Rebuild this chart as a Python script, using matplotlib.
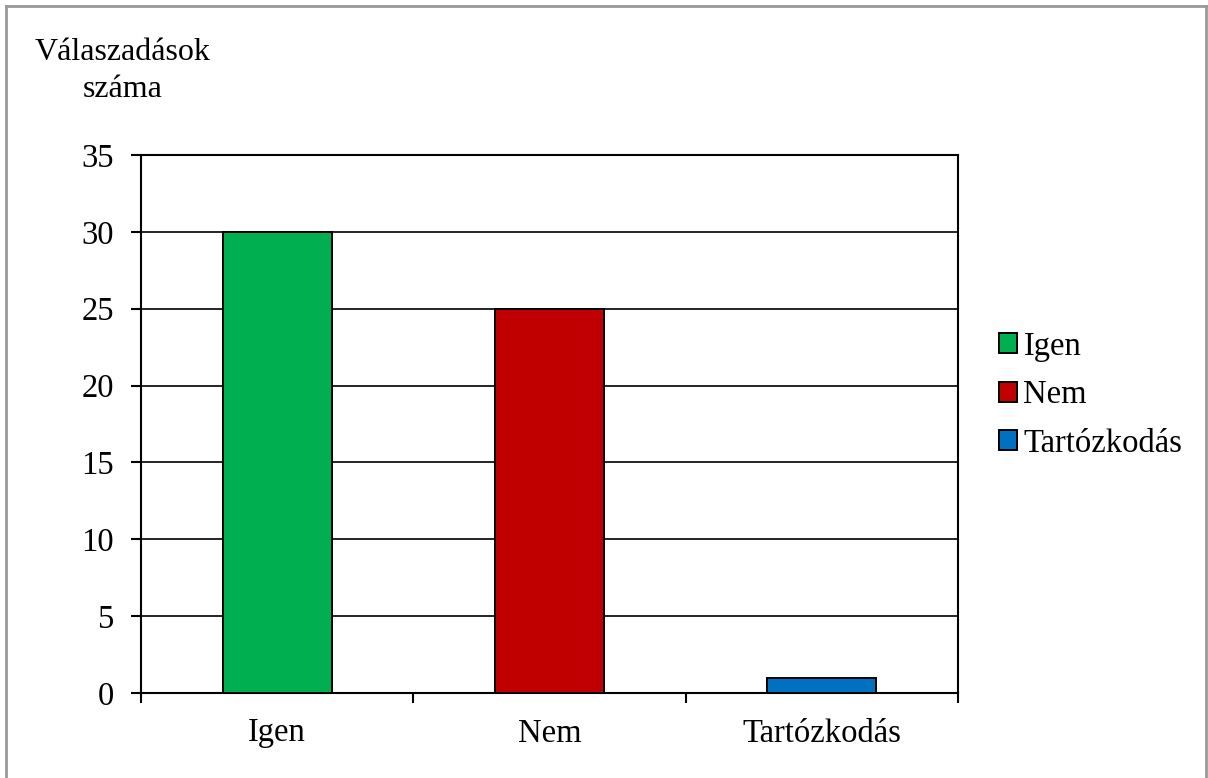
import matplotlib.pyplot as plt
from matplotlib.lines import Line2D
from matplotlib.patches import Patch
import numpy as np

categories = ['Igen', 'Nem', 'Tartózkodás']
values = [30, 25, 1]
colors = ['#00B050', '#C00000', '#0070C0']
yticks = [0, 5, 10, 15, 20, 25, 30, 35]

plt.rcParams['font.family'] = ['Liberation Serif', 'DejaVu Serif']
fs = 23.5

fig = plt.figure(figsize=(12.08, 7.78), dpi=100)
ax = fig.add_axes([141/1208, 85/778, 817/1208, 538/778])

ind = np.arange(len(categories))
ax.bar(ind, values, 0.4, color=colors, edgecolor='black', linewidth=1.4, zorder=3)

ax.set_xlim(-0.5, 2.5)
ax.set_ylim(0, 35)
ax.set_yticks(yticks)
ax.yaxis.grid(True, color='black', linewidth=1.2, zorder=0)
ax.set_xticks(ind)
ax.set_xticklabels(categories)
ax.set_xticks([-0.5, 0.5, 1.5, 2.5], minor=True)
ax.tick_params(axis='x', which='major', length=0, pad=18, labelsize=fs)
ax.tick_params(axis='x', which='minor', length=7, width=1.5, direction='out')
ax.tick_params(axis='y', length=7, width=1.5, direction='out', pad=12.5, labelsize=fs)
for s in ax.spines.values():
    s.set_linewidth(1.5)

# y axis title, two lines
fig.text(123/1208, 1 - 60/778, 'Válaszadások', ha='center', va='baseline', fontsize=23)
fig.text(123/1208, 1 - 97/778, 'száma', ha='center', va='baseline', fontsize=23)

handles = [Patch(facecolor=c, edgecolor='black', linewidth=1.4) for c in colors]
fig.legend(handles, categories, loc='center left', bbox_to_anchor=(999/1208, 1 - 395/778),
           frameon=False, fontsize=fs, handlelength=0.55, handleheight=0.55,
           handletextpad=0.2, labelspacing=0.55, borderpad=0, borderaxespad=0)

# outer border
bc = '#999999'
fig.add_artist(Line2D([6/1208, 6/1208], [0, 1 - 6/778], color=bc, linewidth=2, transform=fig.transFigure))
fig.add_artist(Line2D([6/1208, 1206/1208], [1 - 6/778, 1 - 6/778], color=bc, linewidth=2, transform=fig.transFigure))
fig.add_artist(Line2D([1206/1208, 1206/1208], [0, 1 - 6/778], color=bc, linewidth=2, transform=fig.transFigure))

fig.savefig('out.png', dpi=100)
